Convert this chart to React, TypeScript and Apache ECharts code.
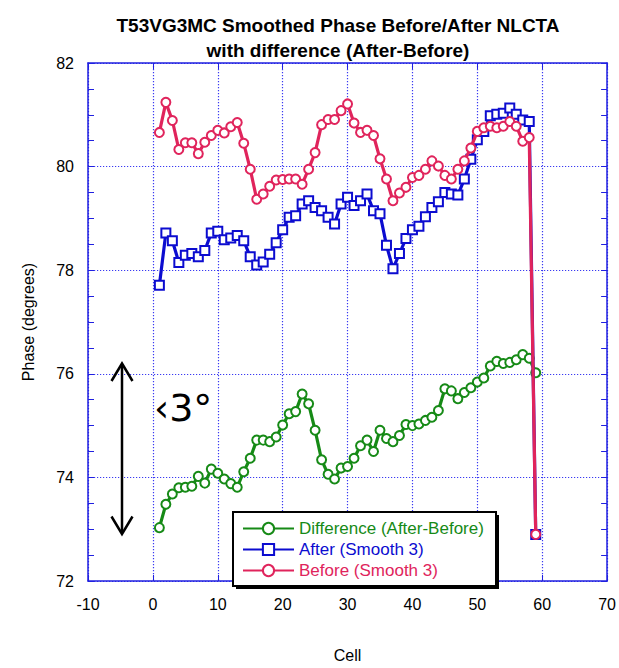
import React, { useEffect, useRef } from 'react';
import * as echarts from 'echarts';

const cells = [
  1, 2, 3, 4, 5, 6, 7, 8, 9, 10, 11, 12, 13, 14, 15, 16, 17, 18, 19, 20,
  21, 22, 23, 24, 25, 26, 27, 28, 29, 30, 31, 32, 33, 34, 35, 36, 37, 38, 39, 40,
  41, 42, 43, 44, 45, 46, 47, 48, 49, 50, 51, 52, 53, 54, 55, 56, 57, 58, 59,
];

const differenceValues = [
  73.03, 73.48, 73.68, 73.8, 73.81, 73.83, 74.02, 73.89, 74.16, 74.08,
  73.97, 73.88, 73.81, 74.11, 74.37, 74.72, 74.72, 74.69, 74.78, 75.01,
  75.23, 75.27, 75.61, 75.42, 74.91, 74.34, 74.06, 73.97, 74.18, 74.21,
  74.37, 74.61, 74.72, 74.5, 74.91, 74.75, 74.69, 74.81, 75.02, 75.0,
  75.03, 75.1, 75.16, 75.29, 75.71, 75.67, 75.52, 75.64, 75.73, 75.84,
  75.92, 76.15, 76.24, 76.2, 76.22, 76.27, 76.37, 76.3, 76.02,
];

const afterValues = [
  77.71, 78.72, 78.57, 78.15, 78.29, 78.32, 78.26, 78.38, 78.72, 78.75,
  78.59, 78.62, 78.67, 78.57, 78.26, 78.1, 78.16, 78.31, 78.53, 78.78,
  79.02, 79.05, 79.28, 79.34, 79.21, 79.15, 79.02, 78.89, 79.28, 79.41,
  79.25, 79.34, 79.47, 79.15, 79.09, 78.48, 78.03, 78.32, 78.61, 78.78,
  78.85, 79.03, 79.21, 79.32, 79.5, 79.47, 79.45, 79.76, 80.14, 80.52,
  80.68, 80.98, 81.01, 81.03, 81.13, 81.01, 80.9, 80.87, 72.9,
];

const beforeValues = [
  80.66, 81.24, 80.89, 80.33, 80.46, 80.46, 80.25, 80.47, 80.6, 80.7,
  80.65, 80.77, 80.85, 80.45, 79.95, 79.37, 79.47, 79.62, 79.74, 79.75,
  79.76, 79.76, 79.66, 79.95, 80.27, 80.81, 80.91, 80.91, 81.08, 81.21,
  80.84, 80.66, 80.7, 80.6, 80.15, 79.76, 79.34, 79.49, 79.6, 79.79,
  79.83, 79.95, 80.11, 80.01, 79.83, 79.76, 79.95, 80.11, 80.36, 80.68,
  80.75, 80.78, 80.75, 80.78, 80.87, 80.78, 80.49, 80.56, 72.9,
];

const seriesNames = ['Difference (After-Before)', 'After (Smooth 3)', 'Before (Smooth 3)'];
const titleLines = ['T53VG3MC Smoothed Phase Before/After NLCTA', 'with difference (After-Before)'];
const annotationText = '\u20393\u00b0';

const GREEN = '#168a16';
const BLUE = '#0c0cd0';
const RED = '#e0245c';
const FRAME = '#2020e0';
const GRID = '#3a3af2';
const FONT = '"Liberation Sans", Arial, sans-serif';

export default function App() {
  const ref = useRef<HTMLDivElement>(null);

  useEffect(() => {
    if (!ref.current) return;
    const chart = echarts.init(ref.current, undefined, { renderer: 'svg' });

    const pairs = (vals: number[]) => cells.map((c, i) => [c, vals[i]]);

    const axisCommonX = {
      type: 'value' as const,
      min: -10,
      max: 70,
      interval: 10,
    };
    const axisCommonY = {
      type: 'value' as const,
      min: 72,
      max: 82,
    };

    chart.setOption({
      animation: false,
      backgroundColor: '#ffffff',
      textStyle: { fontFamily: FONT },
      title: {
        text: titleLines.join('\n'),
        left: 333,
        top: 8,
        textAlign: 'center',
        textStyle: {
          fontFamily: FONT,
          fontSize: 19,
          fontWeight: 'bold',
          color: '#000',
          lineHeight: 25,
        },
      },
      grid: { left: 88, right: 11, top: 63, bottom: 85, containLabel: false },
      xAxis: [
        {
          ...axisCommonX,
          position: 'bottom',
          name: 'Cell',
          nameLocation: 'middle',
          nameGap: 66,
          nameTextStyle: { fontSize: 16, color: '#000', fontFamily: FONT },
          axisLine: { show: true, onZero: false, lineStyle: { color: FRAME, width: 1.5 } },
          axisTick: { show: true, inside: true, length: 6, lineStyle: { color: FRAME } },
          axisLabel: { fontSize: 16, color: '#000', margin: 15, fontFamily: FONT },
          splitLine: { show: true, lineStyle: { color: GRID, type: [1.2, 1.8], width: 1.2 } },
        },
        {
          ...axisCommonX,
          position: 'top',
          axisLine: { show: true, onZero: false, lineStyle: { color: FRAME, width: 1.5 } },
          axisTick: { show: true, inside: true, length: 6, lineStyle: { color: FRAME } },
          axisLabel: { show: false },
          splitLine: { show: false },
        },
      ],
      yAxis: [
        {
          ...axisCommonY,
          interval: 2,
          position: 'left',
          name: 'Phase (degrees)',
          nameLocation: 'middle',
          nameGap: 52,
          nameRotate: 90,
          nameTextStyle: { fontSize: 16, color: '#000', fontFamily: FONT },
          axisLine: { show: true, onZero: false, lineStyle: { color: FRAME, width: 1.5 } },
          axisTick: { show: true, inside: true, length: 6, lineStyle: { color: FRAME } },
          minorTick: { show: true, splitNumber: 4, length: 6, lineStyle: { color: FRAME } },
          axisLabel: { fontSize: 16, color: '#000', margin: 14, fontFamily: FONT },
          splitLine: { show: true, lineStyle: { color: GRID, type: [1.2, 1.8], width: 1.2 } },
        },
        {
          ...axisCommonY,
          interval: 0.5,
          position: 'right',
          axisLine: { show: true, onZero: false, lineStyle: { color: FRAME, width: 1.5 } },
          axisTick: { show: true, inside: true, length: 6, lineStyle: { color: FRAME } },
          axisLabel: { show: false },
          splitLine: { show: false },
        },
      ],
      legend: {
        orient: 'vertical',
        left: 242,
        top: 520,
        padding: 0,
        itemWidth: 51,
        itemHeight: 14,
        itemGap: 4,
        backgroundColor: 'transparent',
        borderWidth: 0,
        z: 10,
        textStyle: { fontSize: 17, fontFamily: FONT },
        data: [
          { name: seriesNames[0], textStyle: { color: GREEN } },
          { name: seriesNames[1], textStyle: { color: BLUE } },
          { name: seriesNames[2], textStyle: { color: RED } },
        ],
      },
      graphic: [
        {
          type: 'rect',
          z: 8,
          shape: { x: 236, y: 515, width: 263, height: 74 },
          style: { fill: '#000' },
        },
        {
          type: 'rect',
          z: 9,
          shape: { x: 233, y: 512, width: 263, height: 74 },
          style: { fill: '#fff', stroke: '#000', lineWidth: 2 },
        },
        {
          type: 'line',
          z: 9,
          shape: { x1: 122, y1: 364, x2: 122, y2: 533 },
          style: { stroke: '#000', lineWidth: 2.5 },
        },
        {
          type: 'polyline',
          z: 9,
          shape: { points: [[111.5, 381], [122, 363.5], [132.5, 381]] },
          style: { stroke: '#000', lineWidth: 2.5, fill: 'none' },
        },
        {
          type: 'polyline',
          z: 9,
          shape: { points: [[111.5, 516.5], [122, 534], [132.5, 516.5]] },
          style: { stroke: '#000', lineWidth: 2.5, fill: 'none' },
        },
        {
          type: 'text',
          z: 9,
          x: 154,
          y: 408,
          style: {
            text: annotationText,
            font: '38px "DejaVu Sans", sans-serif',
            fill: '#000',
            align: 'left',
            verticalAlign: 'middle',
          },
        },
      ],
      series: [
        {
          name: seriesNames[0],
          type: 'line',
          xAxisIndex: 0,
          yAxisIndex: 0,
          data: pairs(differenceValues),
          symbol: 'emptyCircle',
          symbolSize: 9,
          z: 3,
          lineStyle: { color: GREEN, width: 3.2 },
          itemStyle: { color: GREEN, borderWidth: 1.5 },
        },
        {
          name: seriesNames[1],
          type: 'line',
          xAxisIndex: 0,
          yAxisIndex: 0,
          data: pairs(afterValues),
          symbol: 'emptyRect',
          symbolSize: 9,
          z: 4,
          lineStyle: { color: BLUE, width: 3.2 },
          itemStyle: { color: BLUE, borderWidth: 1.5 },
        },
        {
          name: seriesNames[2],
          type: 'line',
          xAxisIndex: 0,
          yAxisIndex: 0,
          data: pairs(beforeValues),
          symbol: 'emptyCircle',
          symbolSize: 9,
          z: 5,
          lineStyle: { color: RED, width: 3.2 },
          itemStyle: { color: RED, borderWidth: 1.5 },
        },
      ],
    });

    return () => {
      chart.dispose();
    };
  }, []);

  return (
    <div
      ref={ref}
      style={{ position: 'absolute', left: 0, top: 0, width: 619, height: 668, background: '#fff' }}
    />
  );
}
